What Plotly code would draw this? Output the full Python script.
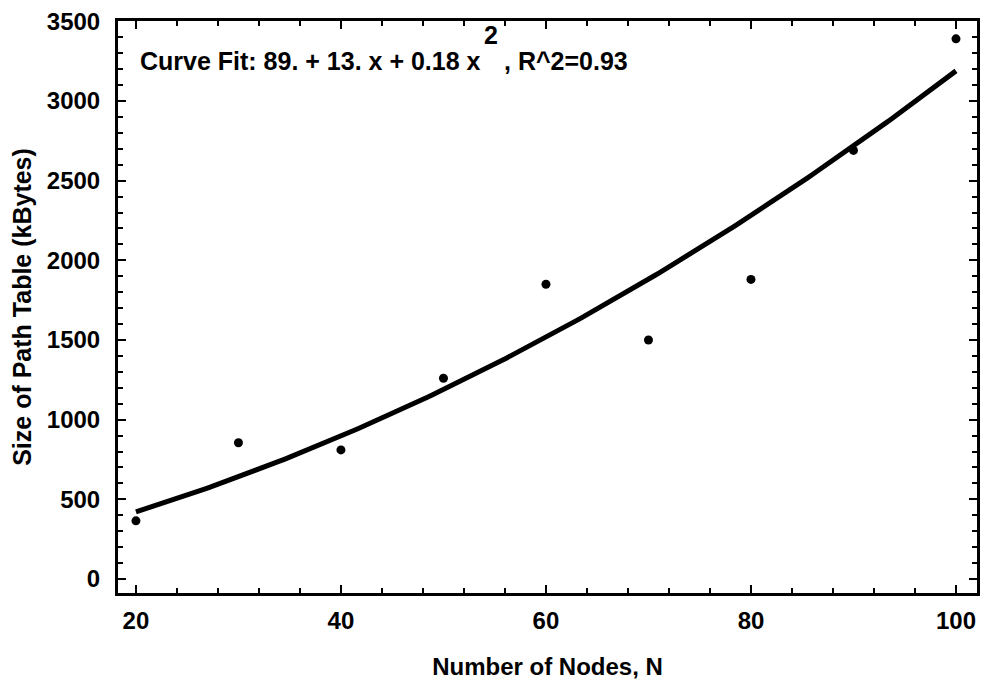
import numpy as np
import plotly.graph_objects as go

# Measured path-table sizes
nodes = [20, 30, 40, 50, 60, 70, 80, 90, 100]
table_kbytes = [365, 855, 810, 1260, 1850, 1500, 1880, 2690, 3390]

# Quadratic fit coefficients: c0 + c1*x + c2*x^2
fit_coeffs = [89.0, 13.0, 0.18]
fit_r2 = 0.93

x_fit = np.linspace(20, 100, 200)
y_fit = fit_coeffs[0] + fit_coeffs[1] * x_fit + fit_coeffs[2] * x_fit ** 2

font_family = "Liberation Sans, Arial, Helvetica, sans-serif"
label_font = dict(family=font_family, size=24, color="black", weight="bold")

fig = go.Figure()
fig.add_trace(go.Scatter(
    x=x_fit, y=y_fit, mode="lines",
    line=dict(color="black", width=5),
    hoverinfo="skip", showlegend=False,
))
fig.add_trace(go.Scatter(
    x=nodes, y=table_kbytes, mode="markers",
    marker=dict(color="black", size=9),
    showlegend=False,
))

axis_common = dict(
    showline=True, linecolor="black", linewidth=3, mirror="allticks",
    ticks="inside", ticklen=8, tickwidth=2, tickcolor="black",
    showgrid=False, zeroline=False,
    tickfont=label_font,
)

fig.update_xaxes(
    range=[18.25, 102.05], tick0=20, dtick=20,
    minor=dict(dtick=4, ticks="inside", ticklen=5, tickwidth=1.5, tickcolor="black"),
    ticklabelstandoff=4,
    title=dict(text="Number of Nodes, N", standoff=26, font=label_font),
    **axis_common,
)
fig.update_yaxes(
    range=[-88, 3502], tick0=0, dtick=500,
    minor=dict(dtick=100, ticks="inside", ticklen=5, tickwidth=1.5, tickcolor="black"),
    ticklabelstandoff=10,
    title=dict(text="Size of Path Table (kBytes)", standoff=9,
               font=dict(family=font_family, size=25, color="black", weight="bold")),
    **axis_common,
)

# Fit formula: main line, raised exponent, then the R^2 value
fit_font = dict(family=font_family, size=25, color="black", weight="bold")
fig.add_annotation(
    xref="paper", yref="paper", x=0.0232, y=0.930,
    xanchor="left", yanchor="middle", showarrow=False,
    text=f"Curve Fit: {fit_coeffs[0]:.0f}. + {fit_coeffs[1]:.0f}. x + {fit_coeffs[2]:.2f} x",
    font=fit_font,
)
fig.add_annotation(
    xref="paper", yref="paper", x=0.4235, y=0.9755,
    xanchor="left", yanchor="middle", showarrow=False,
    text="2", font=fit_font,
)
fig.add_annotation(
    xref="paper", yref="paper", x=0.4466, y=0.930,
    xanchor="left", yanchor="middle", showarrow=False,
    text=f", R^2={fit_r2:.2f}", font=fit_font,
)

fig.update_layout(
    width=987, height=690,
    margin=dict(l=118, r=7, t=21, b=97),
    paper_bgcolor="white", plot_bgcolor="white",
)

fig.write_html("out.html")
